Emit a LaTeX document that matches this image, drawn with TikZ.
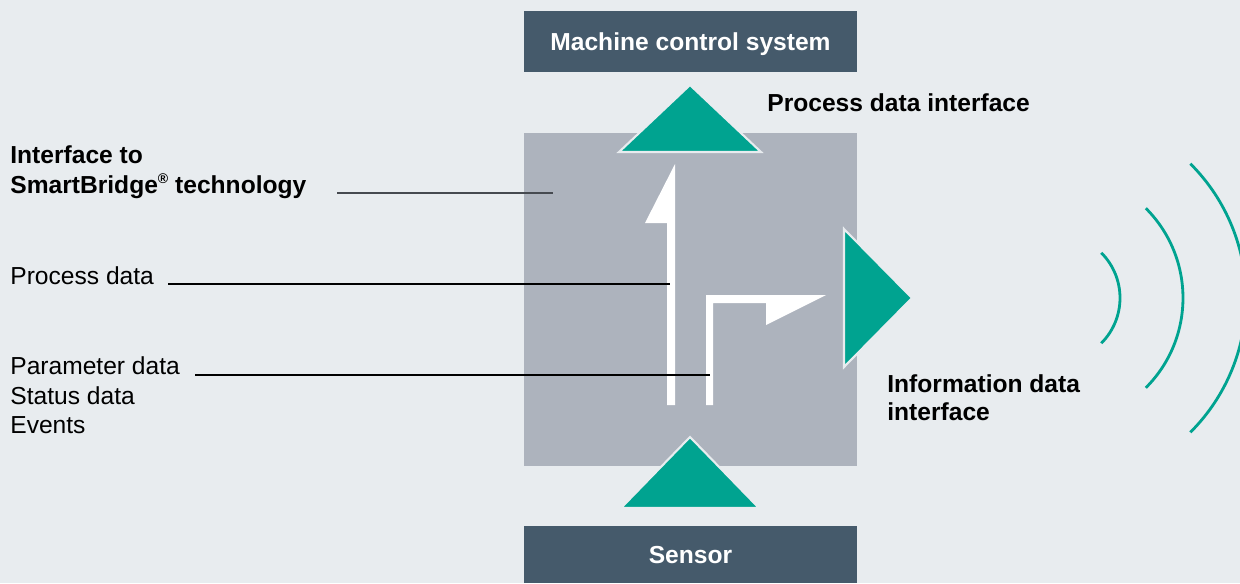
\documentclass[tikz,border=0pt]{standalone}
\usepackage{fontspec}
\setmainfont{Liberation Sans}
\usepackage{tikz}
\usetikzlibrary{positioning}
\definecolor{bgcol}{RGB}{232,236,239}
\definecolor{slate}{RGB}{69,90,107}
\definecolor{coregray}{RGB}{173,179,189}
\definecolor{tealgreen}{RGB}{0,163,144}
\definecolor{leadgray}{RGB}{70,74,80}
\newcommand{\regmark}{\raisebox{0.75ex}{\fontsize{8}{8}\selectfont ®}}
\tikzset{
  endbox/.style={fill=slate,minimum width=6.66cm,minimum height=1.22cm,
                 text=white,font=\fontsize{14}{17}\selectfont\bfseries,
                 text height=10pt,text depth=0pt,inner sep=0pt},
  lbl/.style={font=\fontsize{14}{17}\selectfont,inner sep=0pt,anchor=base west},
  lblb/.style={lbl,font=\fontsize{14}{17}\selectfont\bfseries},
  leader/.style={line width=0.6pt,black},
  tri/.style={fill=tealgreen,draw=bgcol,line width=1.2pt,line join=miter},
  wave/.style={tealgreen,line width=1.6pt}}

\begin{document}
\begin{tikzpicture}[x=0.02cm,y=-0.02cm]
\fill[bgcol] (0,0) rectangle (1240,583);
\clip (0,0) rectangle (1240,583);

\node[endbox] (mcs) at (690.5,41.5) {Machine control system};
\node[fill=coregray,minimum width=6.66cm,minimum height=6.66cm,inner sep=0pt] (core) at (690.5,299.5) {};
\node[endbox,minimum height=1.14cm] (sensor) at (690.5,554.5) {Sensor};

% data paths inside the bridge
\fill[white] (667,405) -- (675,405) -- (675,164) -- (645,223) -- (667,223) -- cycle;
\fill[white] (706,405) -- (706,295) -- (826,295) -- (766,325) -- (766,303)
             -- (713,303) -- (713,405) -- cycle;

% interfaces
\filldraw[tri] (619,152) -- (690,85) -- (761,152) -- cycle;
\filldraw[tri] (621,508) -- (690,437) -- (759,508) -- cycle;
\filldraw[tri] (844,229) -- (912,298) -- (844,367) -- cycle;

\coordinate (wc) at (1056,298);
\foreach \r in {1.28,2.54,3.8}{%
  \draw[wave] ([shift={(-45:\r cm)}]wc) arc[start angle=-45,end angle=45,radius=\r cm];
}

% labels
\node[lblb] (pdi) at (767,111) {Process data interface};
\node[lblb] (idi1) at (887,392) {Information data};
\node[lblb] (idi2) at (887,420) {interface};
\node[lblb] (sb1) at (10,163) {Interface to};
\node[lblb] (sb2) at (10,193) {SmartBridge\regmark{} technology};
\node[lbl] (pd) at (10,284) {Process data};
\node[lbl] (par) at (10,374) {Parameter data};
\node[lbl] (stat) at (10,404) {Status data};
\node[lbl] (ev) at (10,433) {Events};

\coordinate (sb-a) at (337,193);
\coordinate (sb-b) at (553,193);
\coordinate (pd-a) at (168,284);
\coordinate (pd-b) at (670,284);
\coordinate (par-a) at (195,375);
\coordinate (par-b) at (710,375);
\draw[leader,leadgray] (sb-a) -- (sb-b);
\draw[leader] (pd-a) -- (pd-b);
\draw[leader] (par-a) -- (par-b);
\end{tikzpicture}
\end{document}
